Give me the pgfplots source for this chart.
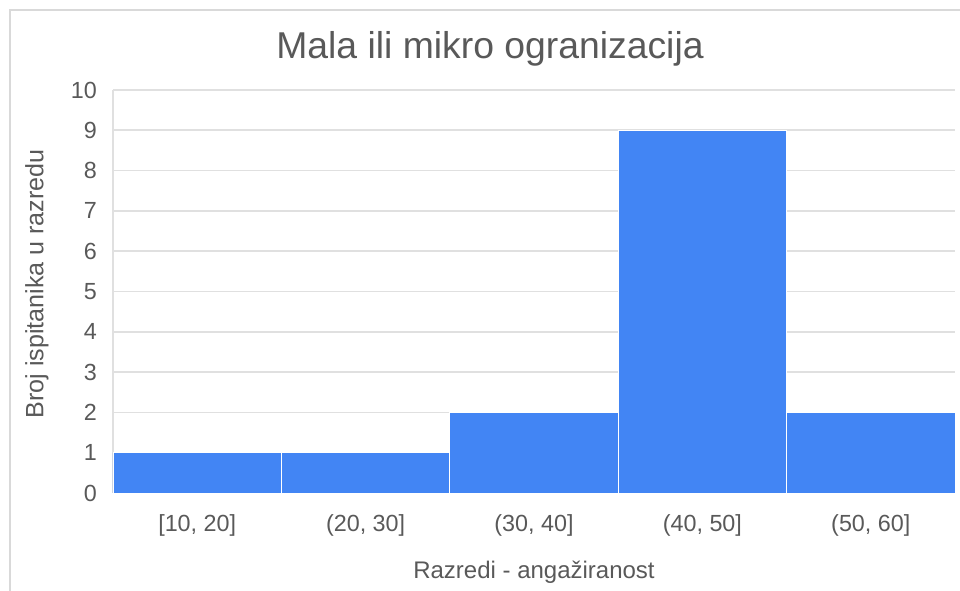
\documentclass[border=0pt]{standalone}
\usepackage{pgfplots}
\pgfplotsset{compat=1.18}
\usepackage{fontspec}
\setmainfont{Liberation Sans}

\definecolor{barblue}{HTML}{4285F4}
\definecolor{gridgray}{HTML}{E0E0E0}
\definecolor{textgray}{HTML}{595959}
\definecolor{framegray}{HTML}{D9D9D9}

\begin{document}
\begin{tikzpicture}
  % page size: 960 x 591 px at 0.75pt per px, axis origin at (113px, 493px)
  \path[use as bounding box] (-84.75pt,-73.5pt) rectangle (635.25pt,369.75pt);
  \draw[framegray, line width=0.8pt] (-77.25pt,-73.5pt) -- (-77.25pt,362.25pt) -- (635.25pt,362.25pt);

  \begin{axis}[
      scale only axis,
      width=631.5pt, height=302.25pt,
      ybar, bar width=1,
      xmin=-0.5, xmax=4.5,
      ymin=0, ymax=10,
      ytick={0,1,...,10},
      xtick={0,1,2,3,4},
      xticklabels={{[10, 20]},{(20, 30]},{(30, 40]},{(40, 50]},{(50, 60]}},
      axis x line*=bottom, axis y line*=left,
      axis line style={gridgray, line width=0.8pt, -},
      ymajorgrids, major grid style={gridgray, line width=1.3pt},
      major tick length=0pt,
      tick label style={font=\fontsize{17.5}{20}\selectfont, text=textgray},
      /pgf/number format/assume math mode=true,
      yticklabel style={anchor=east, inner sep=0pt, xshift=-12pt},
      xticklabel style={anchor=center, inner sep=0pt, yshift=-24pt},
      title={Mala ili mikro ogranizacija},
      title style={at={([xshift=282.75pt,yshift=327pt]axis cs:-0.5,0)}, anchor=center,
        font=\fontsize{28}{32}\selectfont, text=textgray},
      xlabel={Razredi - angažiranost},
      xlabel style={at={([yshift=-59.25pt]axis description cs:0.5,0)}, anchor=center,
        font=\fontsize{18}{21}\selectfont, text=textgray},
      ylabel={Broj ispitanika u razredu},
      ylabel style={at={([xshift=-57pt,yshift=5.75pt]axis description cs:0,0.5)}, anchor=center,
        rotate=0, font=\fontsize{18.8}{22}\selectfont, text=textgray},
      clip=false,
    ]
    \addplot[fill=barblue, draw=white, line width=0.7pt] coordinates {
      (0,1) (1,1) (2,2) (3,9) (4,2)
    };
  \end{axis}
\end{tikzpicture}
\end{document}
